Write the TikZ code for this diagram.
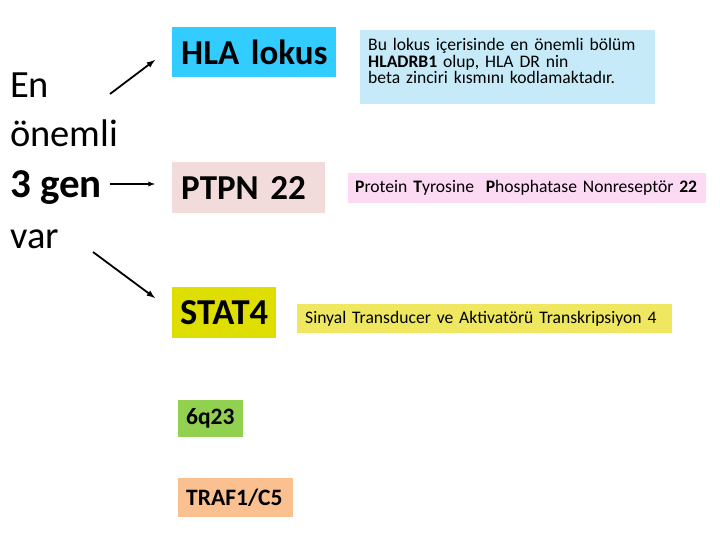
\documentclass[tikz,border=0pt]{standalone}
\usepackage{fontspec}
\setmainfont{Carlito}
\usepackage{tikz}

\definecolor{hlablue}{HTML}{33CCFF}
\definecolor{ptpnrose}{HTML}{F2DCDB}
\definecolor{statyellow}{HTML}{DEDE00}
\definecolor{qgreen}{HTML}{92D050}
\definecolor{trafpeach}{HTML}{FAC090}
\definecolor{noteblue}{HTML}{C6EAF8}
\definecolor{notepink}{HTML}{FDDAF4}
\definecolor{noteyellow}{HTML}{EFE75F}

\begin{document}
\begin{tikzpicture}[x=1pt,y=-1pt,>=latex,
  side/.style={anchor=base west,inner sep=0pt,font=\fontsize{38.5}{44}\selectfont},
  gene/.style={anchor=north west,inner xsep=9pt,inner ysep=0pt,align=left,
    font=\bfseries\fontsize{35}{40}\selectfont},
  locus/.style={anchor=north west,inner xsep=8pt,inner ysep=0pt,align=left,
    font=\bfseries\fontsize{23.5}{26}\selectfont},
  note/.style={anchor=north west,inner xsep=8pt,inner ysep=0pt,align=left,
    font=\fontsize{17.6}{16.8}\selectfont}]
\useasboundingbox (0,0) rectangle (720,540);

% left column
\node[side] (en) at (10,98) {En};
\node[side] (onemli) at (10,147) {önemli};
\node[side,font=\bfseries\fontsize{41}{44}\selectfont] (gen) at (10,197) {3~gen};
\node[side] (var) at (10,248) {var};

% genes
\node[gene,fill=hlablue,text width=146pt,minimum height=50pt] (hla) at (172,27) {HLA~lokus};
\node[gene,fill=ptpnrose,text width=135pt,minimum height=51pt] (ptpn) at (172,162) {PTPN~22};
\node[gene,inner xsep=8pt,fill=statyellow,text width=88pt,minimum height=51pt,
  font=\bfseries\fontsize{36.5}{40}\selectfont] (stat) at (172,287) {STAT4};
\node[locus,fill=qgreen,text width=49pt,minimum height=37pt] (q) at (178,400) {6q23};
\node[locus,fill=trafpeach,text width=99pt,minimum height=39pt] (traf) at (178,478) {TRAF1/C5};

% explanations
\node[note,fill=noteblue,text width=279pt,minimum height=74pt,text depth=46pt] (hlanote) at (360,30)
  {Bu lokus içerisinde en önemli bölüm\\ \textbf{HLADRB1} olup, HLA DR nin\\ beta zinciri kısmını kodlamaktadır.};
\node[note,inner xsep=7pt,fill=notepink,text width=344pt,minimum height=30pt] (ptpnnote) at (348,173)
  {\textbf{P}rotein \textbf{T}yrosine\ \ \textbf{P}hosphatase Nonreseptör~\textbf{22}};
\node[note,fill=noteyellow,text width=359pt,minimum height=29pt] (statnote) at (297,304)
  {Sinyal Transducer ve Aktivatörü Transkripsiyon~4};

% arrows
\coordinate (upfrom) at (110,94);
\coordinate (upto) at (155,60);
\coordinate (midfrom) at (110,184);
\coordinate (midto) at (155,184);
\coordinate (downfrom) at (93,252);
\coordinate (downto) at (155,298);
\draw[->,line width=1.8pt] (upfrom) -- (upto);
\draw[->,line width=1.3pt] (midfrom) -- (midto);
\draw[->,line width=1.8pt] (downfrom) -- (downto);
\end{tikzpicture}
\end{document}
